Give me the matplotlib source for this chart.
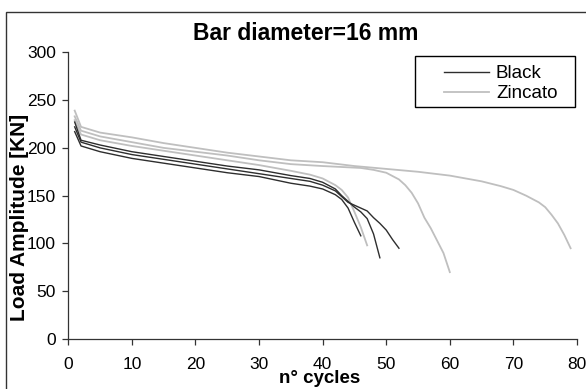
import matplotlib

matplotlib.use("Agg")
import matplotlib.pyplot as plt
from matplotlib.lines import Line2D
from matplotlib.patches import Rectangle

# Black bars: three specimens (cycle number, load amplitude kN)
BLACK_1_X = [1, 2, 5, 10, 15, 20, 25, 30, 35, 38, 40, 42, 43, 44, 45, 46, 47, 48, 49]
BLACK_1_Y = [227, 208, 203, 196, 191, 186, 181, 177, 171, 168, 164, 157, 150, 144, 138, 133, 126, 110, 85]
BLACK_2_X = [1, 2, 5, 10, 15, 20, 25, 30, 35, 38, 40, 42, 43, 44, 45, 46, 47, 48, 49, 50, 51, 52]
BLACK_2_Y = [222, 206, 200, 193, 188, 183, 178, 173, 168, 165, 161, 155, 149, 143, 140, 137, 134, 127, 121, 114, 104, 95]
BLACK_3_X = [1, 2, 5, 10, 15, 20, 25, 30, 35, 38, 40, 42, 43, 44, 45, 46]
BLACK_3_Y = [217, 202, 196, 189, 184, 179, 174, 170, 163, 160, 157, 151, 146, 137, 122, 108]

# Zincato (galvanised) bars
ZINC_1_X = [1, 2, 5, 10, 15, 20, 25, 30, 35, 38, 40, 42, 43, 44, 45, 46, 47]
ZINC_1_Y = [229, 214, 208, 202, 197, 192, 187, 182, 176, 172, 168, 161, 156, 148, 133, 117, 98]
ZINC_2_X = [1, 2, 5, 10, 15, 20, 25, 30, 35, 40, 43, 46, 48, 50, 52, 53, 54, 55, 56, 57, 58, 59, 60]
ZINC_2_Y = [233, 218, 212, 206, 200, 196, 192, 187, 183, 181, 180, 179, 177, 174, 167, 161, 153, 142, 127, 116, 103, 90, 70]
ZINC_3_X = [1, 2, 5, 10, 15, 20, 25, 30, 35, 40, 45, 50, 55, 60, 65, 68, 70, 72, 74, 75, 76, 77, 78, 79]
ZINC_3_Y = [239, 222, 216, 211, 205, 200, 195, 191, 187, 185, 181, 178, 175, 171, 165, 160, 156, 150, 143, 138, 130, 121, 109, 95]

BLACK_SERIES = [(BLACK_1_X, BLACK_1_Y), (BLACK_2_X, BLACK_2_Y), (BLACK_3_X, BLACK_3_Y)]
ZINC_SERIES = [(ZINC_1_X, ZINC_1_Y), (ZINC_2_X, ZINC_2_Y), (ZINC_3_X, ZINC_3_Y)]

X_TICKS = list(range(0, 81, 10))
Y_TICKS = list(range(0, 301, 50))

BLACK = "#2e2e2e"
GREY = "#bfbfbf"
INK = "#333333"

plt.rcParams.update(
    {
        "font.family": ["Liberation Sans", "DejaVu Sans"],
        "font.size": 12,
    }
)

fig = plt.figure(figsize=(5.86, 3.89), dpi=100)
ax = fig.add_axes([0.1166, 0.1285, 0.868, 0.737])

for xs, ys in ZINC_SERIES:
    ax.plot(xs, ys, color=GREY, lw=1.3)
for xs, ys in BLACK_SERIES:
    ax.plot(xs, ys, color=BLACK, lw=1.0)

ax.set_xlim(0, 80)
ax.set_ylim(0, 300)
ax.set_xticks(X_TICKS)
ax.set_yticks(Y_TICKS)
ax.spines[["top", "right"]].set_visible(False)
for side in ("left", "bottom"):
    ax.spines[side].set_color(INK)
    ax.spines[side].set_linewidth(0.9)
ax.tick_params(direction="out", length=4, width=0.9, color=INK, labelsize=12.5)
ax.tick_params(axis="x", pad=9)
ax.tick_params(axis="y", pad=5)

fig.text(0.522, 0.915, "Bar diameter=16 mm", ha="center", va="center",
         fontsize=16.5, fontweight="bold")
fig.text(0.034, 0.44, "Load Amplitude [KN]", ha="center", va="center",
         rotation=90, fontsize=15, fontweight="bold")
fig.text(0.545, 0.026, "n° cycles", ha="center", va="center",
         fontsize=13.5, fontweight="bold")

handles = [Line2D([], [], color=BLACK, lw=1.0), Line2D([], [], color=GREY, lw=1.3)]
fig.legend(handles, ["Black", "Zincato"], loc="upper left",
           bbox_to_anchor=(435 / 586, 1 - 56 / 389), frameon=False,
           borderpad=0, handlelength=2.4, handletextpad=0.35, labelspacing=0.15,
           fontsize=13.5)
fig.add_artist(Rectangle((415 / 586, 1 - 107 / 389), 160 / 586, 51 / 389,
                         transform=fig.transFigure, fill=False, edgecolor="black", lw=1.0))

# outer chart frame, runs off the right and bottom edges
fig.add_artist(Rectangle((6 / 586, -0.1), 1.2, 1 - 12 / 389 + 0.1,
                         transform=fig.transFigure, fill=False, edgecolor=INK, lw=1.0))

fig.savefig("out.png", dpi=100)
